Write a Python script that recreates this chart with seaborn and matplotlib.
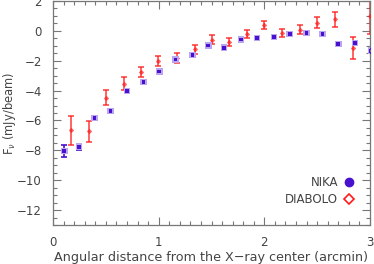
import matplotlib
matplotlib.use("Agg")
import matplotlib.pyplot as plt
import seaborn as sns
import pandas as pd
from matplotlib.lines import Line2D
from matplotlib.ticker import MultipleLocator

nika_x = [0.107, 0.246, 0.394, 0.545, 0.70, 0.858, 1.006, 1.16, 1.32, 1.47,
          1.62, 1.78, 1.93, 2.09, 2.24, 2.40, 2.55, 2.70, 2.86, 3.01]
nika_y = [-8.05, -7.76, -5.82, -5.36, -4.04, -3.44, -2.72, -1.91, -1.60, -0.98,
          -1.13, -0.58, -0.47, -0.40, -0.20, -0.13, -0.22, -0.89, -0.82, -1.33]
nika_err = [0.40, 0.20, 0.15, 0.13, 0.13, 0.13, 0.13, 0.12, 0.12, 0.11,
            0.11, 0.10, 0.10, 0.10, 0.10, 0.10, 0.10, 0.11, 0.12, 0.12]

diab_x = [0.167, 0.338, 0.50, 0.669, 0.833, 0.998, 1.17, 1.34, 1.50, 1.67,
          1.835, 2.0, 2.17, 2.34, 2.50, 2.67, 2.84, 3.0]
diab_y = [-6.67, -6.73, -4.47, -3.53, -2.73, -2.03, -1.80, -1.24, -0.58, -0.73,
          -0.20, 0.38, -0.16, 0.09, 0.56, 0.78, -1.13, 1.0]
diab_err = [0.95, 0.69, 0.49, 0.43, 0.34, 0.34, 0.32, 0.30, 0.28, 0.25,
            0.27, 0.27, 0.27, 0.31, 0.34, 0.50, 0.73, 1.2]

xticks = [0, 1, 2, 3]
yticks = [-12, -10, -8, -6, -4, -2, 0, 2]

blue = "#4a10d0"
red = "#ff1a1a"
gray = "#777777"
txt = "#444444"

sns.set_style("ticks")
plt.rcParams['font.family'] = ['DejaVu Sans']

fig = plt.figure(figsize=(3.74, 2.64), dpi=100)
ax = fig.add_axes([53/374, 39/264, 317/374, 224/264])

dn = pd.DataFrame({"x": nika_x, "y": nika_y, "e": nika_err})
dd = pd.DataFrame({"x": diab_x, "y": diab_y, "e": diab_err})

ax.errorbar(dd["x"], dd["y"], yerr=dd["e"], fmt="none", ecolor=red,
            elinewidth=1.2, capsize=2.3, capthick=1.2, alpha=0.8, zorder=2)
sns.scatterplot(data=dd, x="x", y="y", ax=ax, marker="D", s=6, color=red,
                edgecolor=red, alpha=0.7, zorder=3, legend=False)
ax.errorbar(dn["x"], dn["y"], yerr=dn["e"], fmt="none", ecolor=blue,
            elinewidth=1.2, capsize=2.2, capthick=1.2, zorder=4)
sns.scatterplot(data=dn, x="x", y="y", ax=ax, marker="s", s=22, color="#b9a6ee",
                edgecolor="none", zorder=4, legend=False)
sns.scatterplot(data=dn, x="x", y="y", ax=ax, marker="s", s=7, color=blue,
                edgecolor="none", zorder=5, legend=False)

ax.set_xlim(0, 3)
ax.set_ylim(-13, 2)
ax.set_xticks(xticks)
ax.set_yticks(yticks)
ax.set_xticklabels([str(v) for v in xticks])
ax.set_yticklabels([str(v).replace("-", "\u2212") for v in yticks])
ax.xaxis.set_minor_locator(MultipleLocator(0.1))
ax.yaxis.set_minor_locator(MultipleLocator(0.5))
ax.tick_params(which="both", direction="in", top=True, right=True,
               color=gray, labelcolor=txt, labelsize=8.5, width=0.8)
ax.tick_params(which="major", length=6, pad=8)
ax.tick_params(which="minor", length=3)
for s in ax.spines.values():
    s.set_color(gray)
    s.set_linewidth(0.9)

ax.set_xlabel("Angular distance from the X\u2212ray center (arcmin)",
              fontsize=9.2, color=txt, labelpad=1)
ax.set_ylabel(r"F$_\nu$ (mJy/beam)", fontsize=8.3, color=txt, labelpad=0)
ax.yaxis.set_label_coords(-35/317, 0.5)

handles = [
    Line2D([], [], marker="o", linestyle="none", color=blue, markersize=6),
    Line2D([], [], marker="D", linestyle="none", markerfacecolor="white",
           markeredgecolor=red, markeredgewidth=1.2, markersize=5),
]
leg = ax.legend(handles, ["NIKA", "DIABOLO"], loc="lower right",
                bbox_to_anchor=(0.962, 0.065), frameon=False, markerfirst=False,
                fontsize=8.5, handlelength=0.8, handletextpad=0.5,
                labelspacing=0.3, borderaxespad=0)
for t in leg.get_texts():
    t.set_color(txt)

fig.savefig("out.png", dpi=100)
